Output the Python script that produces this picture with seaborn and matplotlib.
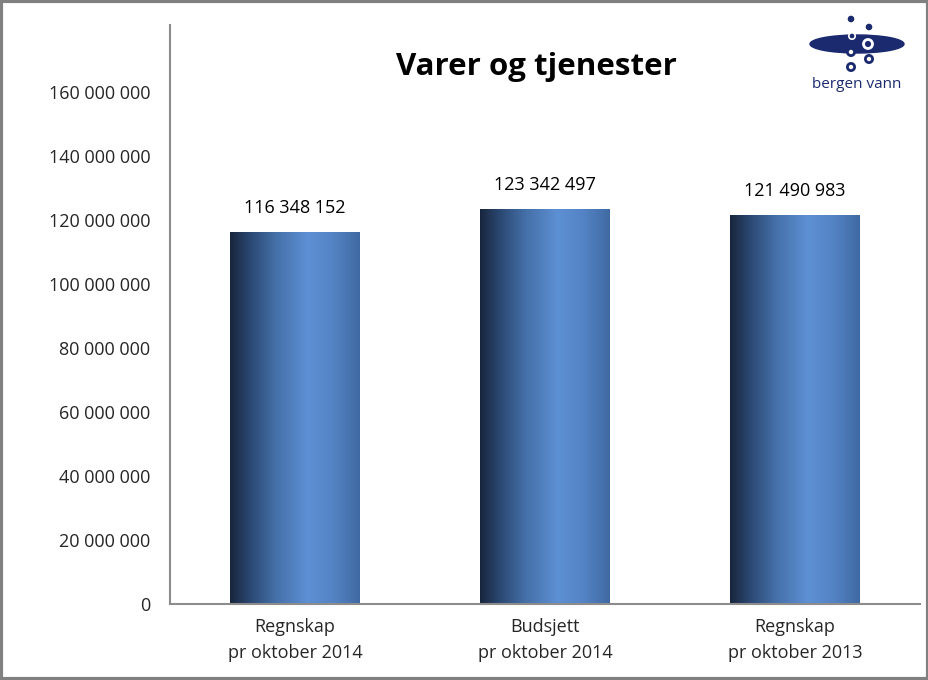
import numpy as np
import pandas as pd
import matplotlib
matplotlib.use("Agg")
import matplotlib.pyplot as plt
import seaborn as sns
from matplotlib.patches import Ellipse, Circle, Rectangle
from matplotlib.colors import LinearSegmentedColormap

categories = ["Regnskap\npr oktober 2014", "Budsjett\npr oktober 2014", "Regnskap\npr oktober 2013"]
values = [116348152, 123342497, 121490983]
value_labels = ["116 348 152", "123 342 497", "121 490 983"]
yticks = [0, 20000000, 40000000, 60000000, 80000000, 100000000, 120000000, 140000000, 160000000]
ytick_labels = ["0", "20 000 000", "40 000 000", "60 000 000", "80 000 000",
                "100 000 000", "120 000 000", "140 000 000", "160 000 000"]
title = "Varer og tjenester"

sns.set_style("white")
plt.rcParams['font.family'] = ['Open Sans', 'DejaVu Sans']

fig = plt.figure(figsize=(9.29, 6.8), dpi=100)
ax = fig.add_axes([170/929, 76/680, 750/929, 579/680])

df = pd.DataFrame({"cat": categories, "val": values})
sns.barplot(data=df, x="cat", y="val", ax=ax, width=0.52, color="#4f81bd", edgecolor="none")

YMAX = 181000000

# gradient fill
cmap = LinearSegmentedColormap.from_list("g", [
    (0.0, "#18263d"), (0.15, "#2b4771"), (0.35, "#4570a8"),
    (0.6, "#5d90d4"), (0.8, "#5483c4"), (1.0, "#3f69a2")])
grad = np.linspace(0, 1, 256).reshape(1, -1)
for p in ax.patches:
    x0, y0 = p.get_x(), p.get_y()
    w, h = p.get_width(), p.get_height()
    im = ax.imshow(grad, cmap=cmap, aspect="auto", extent=[x0, x0 + w, y0, y0 + h],
                   zorder=p.get_zorder() + 0.1)
    im.set_clip_path(p)
    ax.text(x0 + w / 2, h + 7500000, value_labels[int(round(x0 + w / 2))], ha="center",
            va="center", fontsize=13, color="black")
ax.set_xlim(-0.5, 2.5)
ax.set_ylim(0, YMAX)

ax.set_yticks(yticks)
ax.set_yticklabels(ytick_labels, fontsize=13)
ax.tick_params(axis="y", length=0, pad=14)
ax.tick_params(axis="x", length=0, pad=10, labelsize=13)
for lbl in ax.get_xticklabels():
    lbl.set_linespacing(1.55)
ax.set_xlabel("")
ax.set_ylabel("")
for s in ["top", "right"]:
    ax.spines[s].set_visible(False)
for s in ["left", "bottom"]:
    ax.spines[s].set_color("#8c8c8c")
    ax.spines[s].set_linewidth(1.5)

fig.text(536/929, 1 - 67/680, title, ha="center", va="center", fontsize=22.5,
         fontweight="bold", color="black")

# logo (coordinates in figure pixels)
lax = fig.add_axes([800/929, 1 - 95/680, 115/929, 90/680])
lax.set_xlim(800, 915)
lax.set_ylim(95, 5)
lax.axis("off")
navy = "#1b2a6e"
lax.add_patch(Ellipse((857, 44), 94, 18, color=navy))
lax.add_patch(Circle((851, 19), 2.6, color=navy))
lax.add_patch(Circle((869, 27), 2.6, color=navy))
lax.add_patch(Circle((852, 36), 3.2, facecolor=navy, edgecolor="white", lw=1.2))
lax.add_patch(Circle((868, 44), 4.5, facecolor=navy, edgecolor="white", lw=2))
for (cx, cy) in [(851, 52), (869, 59), (851, 67)]:
    lax.add_patch(Circle((cx, cy), 3.6, facecolor="white", edgecolor=navy, lw=2))
lax.text(857, 85, "bergen vann", ha="center", va="center", fontsize=11, color=navy)

# border
fig.patches.append(Rectangle((0.0015, 0.002), 0.997, 0.996, transform=fig.transFigure,
                             fill=False, edgecolor="#808080", lw=3))

fig.savefig("out.png", dpi=100)
